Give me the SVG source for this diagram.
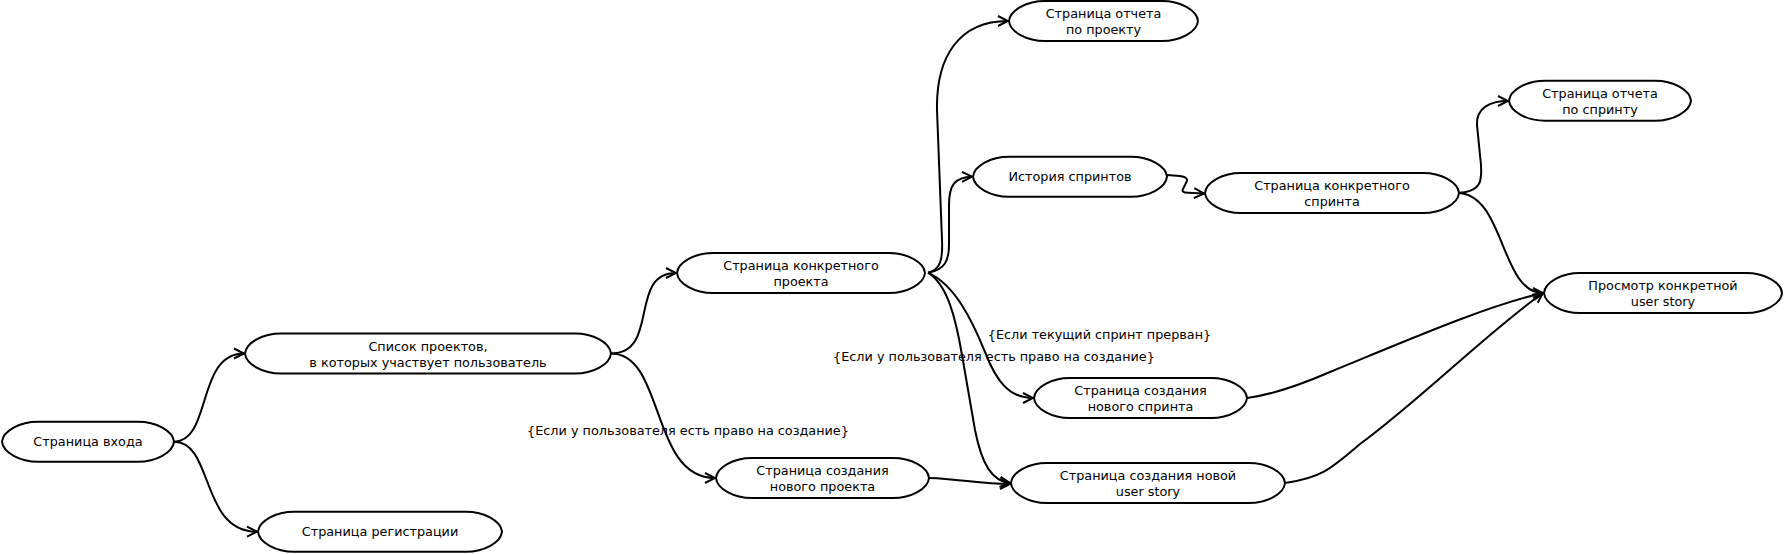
<svg xmlns="http://www.w3.org/2000/svg" width="1786" height="554" viewBox="0 0 1786 554">
<style>
.node path{fill:#fff;stroke:#000;stroke-width:2}
.node text,.lbl{font-family:"DejaVu Sans",sans-serif;font-size:12.8px;fill:#000;text-anchor:middle}
.edges path{fill:none;stroke:#000;stroke-width:2}
</style>
<defs>
<marker id="arr" viewBox="-12 -7 14 14" refX="0" refY="0" markerWidth="14" markerHeight="14" markerUnits="userSpaceOnUse" orient="auto">
<path d="M-10,-5 L0,0 L-10,5" fill="none" stroke="#000" stroke-width="2"/>
</marker>
</defs>
<rect width="1786" height="554" fill="#fff"/>
<g class="edges">
<path marker-end="url(#arr)" d="M174,441.7 C212,441.7 196,353.5 244,353.5"/>
<path marker-end="url(#arr)" d="M174,441.7 C214,441.7 200,531.7 257,531.7"/>
<path marker-end="url(#arr)" d="M611,353.5 C660,353.5 628,273 676,273"/>
<path marker-end="url(#arr)" d="M611,353.5 C665,353.5 650,478 715,478"/>
<path marker-end="url(#arr)" d="M928,272.7 C940,270 943,260 942,240 L937,110 C936,58 958,21 1008,21"/>
<path marker-end="url(#arr)" d="M928,272.7 C945,270 949,260 949,245 L949,205 C949,185 955,177 972,176.7"/>
<path marker-end="url(#arr)" d="M1167,175 L1180,176 Q1188,177 1187,181 L1183,189 Q1181,192.5 1188,192.8 L1204,193.5"/>
<path marker-end="url(#arr)" d="M1457,193 C1482,192 1482,180 1481,165 L1477,125 C1476,108 1490,101 1508,101"/>
<path marker-end="url(#arr)" d="M1457,193 C1505,193 1500,293 1543,293"/>
<path marker-end="url(#arr)" d="M928,272.7 C955,285 972,320 985,352 C997,383 1010,398 1033,398"/>
<path marker-end="url(#arr)" d="M928,272.7 C948,285 956,320 962,355 L975,430 C982,465 992,481 1010,483"/>
<path marker-end="url(#arr)" d="M929,478 C960,479 980,484 1010,484"/>
<path marker-end="url(#arr)" d="M1247,398 C1270,395 1300,385 1330,372 C1420,335 1490,305 1543,293"/>
<path marker-end="url(#arr)" d="M1285,483 C1320,478 1330,470 1360,444 C1420,400 1490,330 1543,293"/>
</g>
<g id="labels">
<text class="lbl" x="688" y="435">{Если у пользователя есть право на создание}</text>
<text class="lbl" x="994" y="361">{Если у пользователя есть право на создание}</text>
<text class="lbl" x="1099.5" y="339">{Если текущий спринт прерван}</text>
</g>
<g id="n1" class="node"><path transform="translate(2,421.7)" d="M36,0 H136 C154,0 171,9 172,20 C171,31 154,40 136,40 H36 C18,40 1,31 0,20 C1,9 18,0 36,0Z"/><text x="88" y="446.2">Страница входа</text></g>
<g id="n2" class="node"><path transform="translate(245,333.5)" d="M36,0 H330 C348,0 365,9 366,20 C365,31 348,40 330,40 H36 C18,40 1,31 0,20 C1,9 18,0 36,0Z"/><text x="428" y="350.5">Список проектов,</text><text x="428" y="366.5">в которых участвует пользователь</text></g>
<g id="n3" class="node"><path transform="translate(258,511.7)" d="M36,0 H208 C226,0 243,9 244,20 C243,31 226,40 208,40 H36 C18,40 1,31 0,20 C1,9 18,0 36,0Z"/><text x="380" y="536.2">Страница регистрации</text></g>
<g id="n4" class="node"><path transform="translate(677,253)" d="M36,0 H212 C230,0 247,9 248,20 C247,31 230,40 212,40 H36 C18,40 1,31 0,20 C1,9 18,0 36,0Z"/><text x="801" y="270">Страница конкретного</text><text x="801" y="286">проекта</text></g>
<g id="n5" class="node"><path transform="translate(716,458)" d="M36,0 H177 C195,0 212,9 213,20 C212,31 195,40 177,40 H36 C18,40 1,31 0,20 C1,9 18,0 36,0Z"/><text x="822.5" y="475">Страница создания</text><text x="822.5" y="491">нового проекта</text></g>
<g id="n6" class="node"><path transform="translate(1009,1)" d="M36,0 H153 C171,0 188,9 189,20 C188,31 171,40 153,40 H36 C18,40 1,31 0,20 C1,9 18,0 36,0Z"/><text x="1103.5" y="18">Страница отчета</text><text x="1103.5" y="34">по проекту</text></g>
<g id="n7" class="node"><path transform="translate(973,156.7)" d="M36,0 H158 C176,0 193,9 194,20 C193,31 176,40 158,40 H36 C18,40 1,31 0,20 C1,9 18,0 36,0Z"/><text x="1070" y="181.2">История спринтов</text></g>
<g id="n8" class="node"><path transform="translate(1205,173)" d="M36,0 H218 C236,0 253,9 254,20 C253,31 236,40 218,40 H36 C18,40 1,31 0,20 C1,9 18,0 36,0Z"/><text x="1332" y="190">Страница конкретного</text><text x="1332" y="206">спринта</text></g>
<g id="n9" class="node"><path transform="translate(1509,80.7)" d="M36,0 H146 C164,0 181,9 182,20 C181,31 164,40 146,40 H36 C18,40 1,31 0,20 C1,9 18,0 36,0Z"/><text x="1600" y="97.7">Страница отчета</text><text x="1600" y="113.7">по спринту</text></g>
<g id="n10" class="node"><path transform="translate(1544,273)" d="M36,0 H202 C220,0 237,9 238,20 C237,31 220,40 202,40 H36 C18,40 1,31 0,20 C1,9 18,0 36,0Z"/><text x="1663" y="290">Просмотр конкретной</text><text x="1663" y="306">user story</text></g>
<g id="n11" class="node"><path transform="translate(1034,378)" d="M36,0 H177 C195,0 212,9 213,20 C212,31 195,40 177,40 H36 C18,40 1,31 0,20 C1,9 18,0 36,0Z"/><text x="1140.5" y="395">Страница создания</text><text x="1140.5" y="411">нового спринта</text></g>
<g id="n12" class="node"><path transform="translate(1011,463)" d="M36,0 H238 C256,0 273,9 274,20 C273,31 256,40 238,40 H36 C18,40 1,31 0,20 C1,9 18,0 36,0Z"/><text x="1148" y="480">Страница создания новой</text><text x="1148" y="496">user story</text></g>
</svg>
